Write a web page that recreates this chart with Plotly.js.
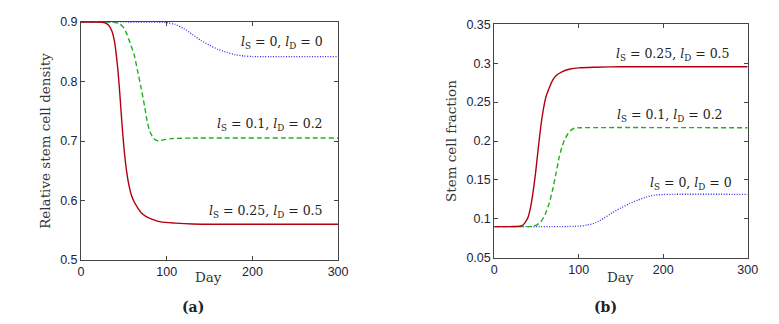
<!DOCTYPE html>
<html>
<head>
<meta charset="utf-8">
<script src="https://cdn.plot.ly/plotly-3.0.1.min.js"></script>
<style>html,body{margin:0;padding:0;background:#fff;}#chart{width:779px;height:324px;}</style>
</head>
<body>
<div id="chart"></div>
<script>
// Panel (a): relative stem cell density
const daysA_red   = [0,20,27,32,36,39,41,43,45,47.5,50,53,56,59,62,66,70,76,84,93,110,130,160,300];
const densA_red   = [0.9,0.9,0.899,0.895,0.885,0.868,0.847,0.82,0.785,0.735,0.69,0.651,0.625,0.608,0.598,0.588,0.58,0.573,0.568,0.564,0.562,0.5605,0.56,0.56];
const daysA_green = [0,30,40,45,50,54,58,62,66,70,74,77,80,84,88,92,96,105,130,300];
const densA_green = [0.9,0.9,0.899,0.897,0.89,0.878,0.862,0.845,0.818,0.79,0.76,0.735,0.717,0.706,0.701,0.7005,0.702,0.704,0.705,0.705];
const daysA_blue  = [0,100,110,120,130,140,150,160,170,180,190,200,300];
const densA_blue  = [0.9,0.899,0.896,0.889,0.879,0.869,0.861,0.854,0.849,0.845,0.843,0.842,0.842];

// Panel (b): stem cell fraction
const daysB_red   = [0,20,30,34,37,40,43,46,49,52,55,58,61,65,69,73,80,90,100,120,150,300];
const fracB_red   = [0.09,0.09,0.0905,0.092,0.096,0.102,0.115,0.135,0.16,0.19,0.218,0.24,0.256,0.268,0.278,0.284,0.289,0.2925,0.294,0.2948,0.2955,0.2955];
const daysB_green = [0,40,45,50,55,60,65,69,73,77,80,83,87,91,95,100,300];
const fracB_green = [0.09,0.09,0.0905,0.092,0.096,0.105,0.12,0.137,0.158,0.18,0.192,0.201,0.209,0.214,0.2165,0.217,0.217];
const daysB_blue  = [0,100,110,120,130,140,150,160,170,180,190,200,210,300];
const fracB_blue  = [0.09,0.0905,0.092,0.095,0.101,0.108,0.114,0.1195,0.124,0.128,0.1305,0.1312,0.1315,0.1315];

const xTicks = [0,100,200,300];
const yTicksA = [0.5,0.6,0.7,0.8,0.9];
const yTicksB = [0.05,0.1,0.15,0.2,0.25,0.3,0.35];

const labels = {
  big:  '<i>l</i><sub>S</sub> = 0.25, <i>l</i><sub>D</sub> = 0.5',
  mid:  '<i>l</i><sub>S</sub> = 0.1, <i>l</i><sub>D</sub> = 0.2',
  zero: '<i>l</i><sub>S</sub> = 0, <i>l</i><sub>D</sub> = 0'
};

const RED = '#b00010', GREEN = '#22b022', BLUE = '#2a2ae0';
const line = (c, d, w) => ({color: c, dash: d, width: w, shape: 'spline', smoothing: 0.6});

const traces = [
  {x: daysA_blue,  y: densA_blue,  xaxis:'x',  yaxis:'y',  mode:'lines', line: line(BLUE,'1px,1.6px',1.3)},
  {x: daysA_green, y: densA_green, xaxis:'x',  yaxis:'y',  mode:'lines', line: line(GREEN,'5px,3px',1.4)},
  {x: daysA_red,   y: densA_red,   xaxis:'x',  yaxis:'y',  mode:'lines', line: line(RED,'solid',1.4)},
  {x: daysB_blue,  y: fracB_blue,  xaxis:'x2', yaxis:'y2', mode:'lines', line: line(BLUE,'1px,1.6px',1.3)},
  {x: daysB_green, y: fracB_green, xaxis:'x2', yaxis:'y2', mode:'lines', line: line(GREEN,'5px,3px',1.4)},
  {x: daysB_red,   y: fracB_red,   xaxis:'x2', yaxis:'y2', mode:'lines', line: line(RED,'solid',1.4)}
];

const tickFont = {family: "'Liberation Sans', Arial, sans-serif", size: 12.5, color: '#1c2340'};
const serif = "'DejaVu Serif', 'Liberation Serif', serif";
const axBase = {
  showgrid: false, zeroline: false, showline: true, linecolor: '#444', linewidth: 1,
  mirror: 'ticks', ticks: 'inside', ticklen: 4, tickcolor: '#444', tickfont: tickFont
};
const annFont = {family: serif, size: 12.5, color: '#222'};

const layout = {
  width: 779, height: 324,
  margin: {l: 0, r: 0, t: 0, b: 0},
  paper_bgcolor: '#fff', plot_bgcolor: '#fff',
  showlegend: false,
  xaxis:  Object.assign({}, axBase, {domain: [0.104, 0.434], range: [0,300], tickvals: xTicks, anchor: 'y'}),
  yaxis:  Object.assign({}, axBase, {domain: [0.1975, 0.932], range: [0.5,0.9], tickvals: yTicksA, tickformat: '.1f', anchor: 'x',
           title: {text: 'Relative stem cell density', font: {family: serif, size: 13.5, color: '#333'}, standoff: 6}}),
  xaxis2: Object.assign({}, axBase, {domain: [0.6345, 0.9598], range: [0,300], tickvals: xTicks, anchor: 'y2'}),
  yaxis2: Object.assign({}, axBase, {domain: [0.2046, 0.925], range: [0.05,0.35], tickvals: yTicksB, anchor: 'x2',
           title: {text: 'Stem cell fraction', font: {family: serif, size: 13.5, color: '#333'}, standoff: 6}}),
  annotations: [
    {xref:'x', yref:'y', x: 285, y: 0.865, xanchor:'right', yanchor:'middle', text: labels.zero, showarrow:false, font: annFont},
    {xref:'x', yref:'y', x: 285, y: 0.727, xanchor:'right', yanchor:'middle', text: labels.mid, showarrow:false, font: annFont},
    {xref:'x', yref:'y', x: 285, y: 0.581, xanchor:'right', yanchor:'middle', text: labels.big, showarrow:false, font: annFont},
    {xref:'x2', yref:'y2', x: 281, y: 0.3118, xanchor:'right', yanchor:'middle', text: labels.big, showarrow:false, font: annFont},
    {xref:'x2', yref:'y2', x: 273, y: 0.2333, xanchor:'right', yanchor:'middle', text: labels.mid, showarrow:false, font: annFont},
    {xref:'x2', yref:'y2', x: 283.6, y: 0.146, xanchor:'right', yanchor:'middle', text: labels.zero, showarrow:false, font: annFont},
    {xref:'paper', yref:'paper', x: 208/779, y: 1-277/324, xanchor:'center', yanchor:'middle', text:'Day', showarrow:false, font:{family: serif, size: 13.5, color:'#333'}},
    {xref:'paper', yref:'paper', x: 620/779, y: 1-277/324, xanchor:'center', yanchor:'middle', text:'Day', showarrow:false, font:{family: serif, size: 13.5, color:'#333'}},
    {xref:'paper', yref:'paper', x: 193/779, y: 1-307/324, xanchor:'center', yanchor:'middle', text:'<b>(a)</b>', showarrow:false, font:{family: serif, size: 14, color:'#222'}},
    {xref:'paper', yref:'paper', x: 605/779, y: 1-307/324, xanchor:'center', yanchor:'middle', text:'<b>(b)</b>', showarrow:false, font:{family: serif, size: 14, color:'#222'}}
  ]
};

Plotly.newPlot('chart', traces, layout, {staticPlot: true, displayModeBar: false});
</script>
</body>
</html>
